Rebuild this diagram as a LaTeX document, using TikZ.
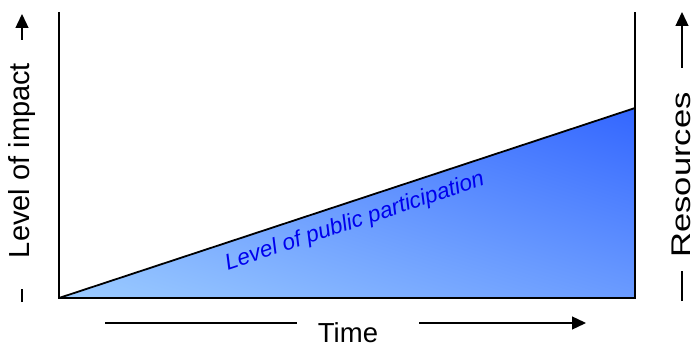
\documentclass[tikz,border=0pt]{standalone}
\usepackage{fontspec}
\setmainfont{Liberation Sans}
\usetikzlibrary{arrows.meta,shadings}
\definecolor{cLL}{HTML}{9CCCFF}
\definecolor{cLR}{HTML}{6A9BFF}
\definecolor{cUR}{HTML}{3366FF}
\definecolor{cUL}{HTML}{6A9BFF}
\definecolor{txtblue}{HTML}{0000EE}
\begin{document}
\begin{tikzpicture}[x=1pt,y=-1pt,
  axisline/.style={line width=1.5pt},
  lbl/.style={inner sep=0pt},
  arr/.style={line width=1.3pt,-{Triangle[length=14pt,width=13pt]}},
  plain/.style={line width=1.3pt}]
\useasboundingbox (0,0) rectangle (691,345);
% shaded triangle
\shade[lower left=cLL, lower right=cLR, upper right=cUR, upper left=cUL]
  (59,298) -- (635,108) -- (635,298) -- cycle;
\coordinate (O) at (59,298);
\coordinate (TL) at (59,12);
\coordinate (BR) at (635,298);
\coordinate (TR) at (635,12);
\coordinate (P) at (635,108);
\draw[axisline] (TL) -- (O) -- (BR) -- (TR);
\draw[line width=1.8pt] (O) -- (P);
% left label
\node[lbl, rotate=90, font=\fontsize{29}{31}\selectfont] (imp) at (22,160.5) {Level of impact};
\coordinate (l1) at (22,302);
\coordinate (l2) at (22,289);
\coordinate (l3) at (22,40);
\coordinate (l4) at (22,14);
\draw[plain] (l1) -- (l2);
\draw[arr] (l3) -- (l4);
% right label
\node[lbl, rotate=90, font=\fontsize{27}{29}\selectfont] (res) at (681.5,175) {\scalebox{1.28}[1]{Resources}};
\coordinate (r1) at (682,301);
\coordinate (r2) at (682,271);
\coordinate (r3) at (682,68);
\coordinate (r4) at (682,12);
\draw[plain] (r1) -- (r2);
\draw[arr] (r3) -- (r4);
% time
\node[lbl, font=\fontsize{27.5}{30}\selectfont] (time) at (348,332.5) {Time};
\coordinate (t1) at (105,323);
\coordinate (t2) at (297,323);
\coordinate (t3) at (419,323);
\coordinate (t4) at (586,323);
\draw[plain] (t1) -- (t2);
\draw[arr] (t3) -- (t4);
% participation
\node[font=\fontsize{22.5}{24}\selectfont\itshape, text=txtblue, rotate=18.3, inner sep=0pt] (pp) at (355,222) {Level of public participation};
\end{tikzpicture}
\end{document}
